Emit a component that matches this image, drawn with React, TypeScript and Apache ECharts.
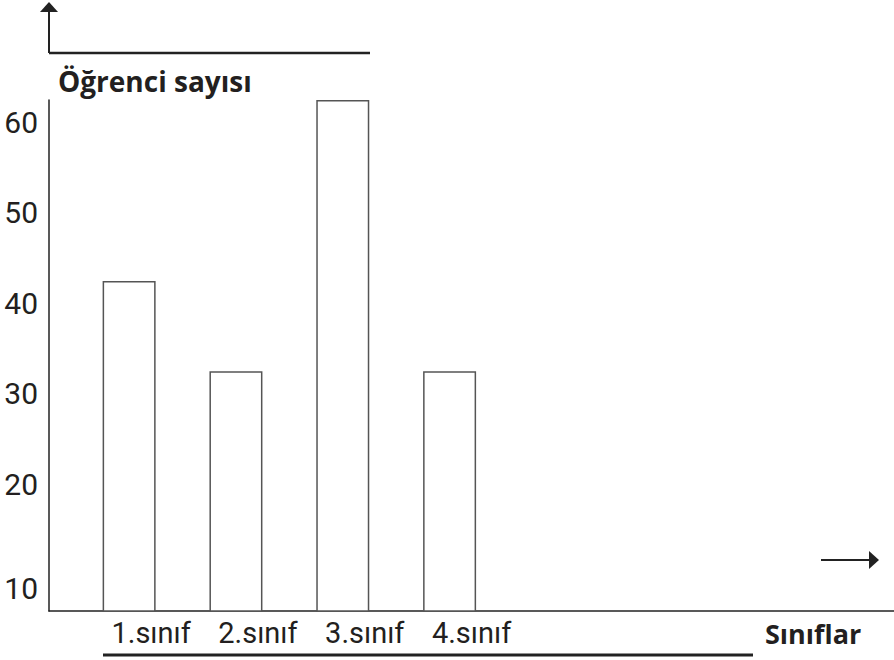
import React, { useEffect, useRef } from "react";
import * as echarts from "echarts";

const categories = ["1.sınıf", "2.sınıf", "3.sınıf", "4.sınıf"];
const studentCounts = [40, 30, 60, 30];
const yTickLabels = [10, 20, 30, 40, 50, 60];
const yAxisTitle = "Öğrenci sayısı";
const xAxisTitle = "Sınıflar";

const INK = "#231f20";

export default function App() {
  const ref = useRef<HTMLDivElement>(null);

  useEffect(() => {
    document.body.style.margin = "0";
    if (!ref.current) return;
    const chart = echarts.init(ref.current, null, { renderer: "svg" });

    const barData = studentCounts.map((v, i) => [i + 1, v]);

    chart.setOption({
      animation: false,
      grid: { left: 49, right: 0, top: 100, bottom: 49, containLabel: false },
      xAxis: {
        type: "value",
        min: 0.25,
        max: 8.16,
        axisLine: { show: true, lineStyle: { color: "#222", width: 1.5 } },
        axisTick: { show: false },
        splitLine: { show: false },
        axisLabel: {
          customValues: categories.map((_, i) => i + 1),
          formatter: (v: number) => `{c|${categories[Math.round(v) - 1] ?? ""}}`,
          margin: 7,
          verticalAlign: "top",
          rich: {
            c: {
              padding: [0, 0, 0, 44],
              fontSize: 29,
              fontFamily: "Roboto",
              color: INK,
            },
          },
        },
      },
      yAxis: {
        type: "value",
        min: 3.5,
        max: 60,
        axisLine: { show: true, lineStyle: { color: "#222", width: 1.5 } },
        axisTick: { show: false },
        splitLine: { show: false },
        axisLabel: {
          customValues: yTickLabels,
          margin: 11,
          formatter: (v: number) => (v === 10 ? `{b|${v}}` : `{a|${v}}`),
          rich: {
            a: { padding: [45, 0, 0, 0], fontSize: 30, fontFamily: "Roboto", color: INK },
            b: { padding: [73, 0, 0, 0], fontSize: 30, fontFamily: "Roboto", color: INK },
          },
        },
      },
      series: [
        {
          type: "bar",
          data: barData,
          barWidth: 53,
          itemStyle: { color: "#ffffff", borderColor: "#555", borderWidth: 1.5 },
        },
      ],
      graphic: [
        { type: "line", shape: { x1: 49, y1: 53, x2: 370, y2: 53 }, style: { stroke: "#222", lineWidth: 2.5 } },
        { type: "line", shape: { x1: 49, y1: 53, x2: 49, y2: 11 }, style: { stroke: "#222", lineWidth: 2 } },
        { type: "polygon", shape: { points: [[49, 2], [40, 12], [58, 12]] }, style: { fill: "#222" } },
        { type: "line", shape: { x1: 821, y1: 560, x2: 870, y2: 560 }, style: { stroke: "#222", lineWidth: 2 } },
        { type: "polygon", shape: { points: [[879, 560], [869, 551], [869, 569]] }, style: { fill: "#222" } },
        { type: "line", shape: { x1: 103, y1: 655, x2: 753, y2: 655 }, style: { stroke: "#222", lineWidth: 3 } },
        {
          type: "text",
          x: 58,
          y: 81,
          style: {
            text: yAxisTitle,
            fontSize: 28,
            fontWeight: "bold",
            fontFamily: "Open Sans",
            fill: INK,
            textAlign: "left",
            textVerticalAlign: "middle",
          },
        },
        {
          type: "text",
          x: 765,
          y: 633,
          style: {
            text: xAxisTitle,
            fontSize: 27,
            fontWeight: "bold",
            fontFamily: "Open Sans",
            fill: INK,
            textAlign: "left",
            textVerticalAlign: "middle",
          },
        },
      ],
    });

    return () => chart.dispose();
  }, []);

  return <div ref={ref} style={{ width: 894, height: 660 }} />;
}
